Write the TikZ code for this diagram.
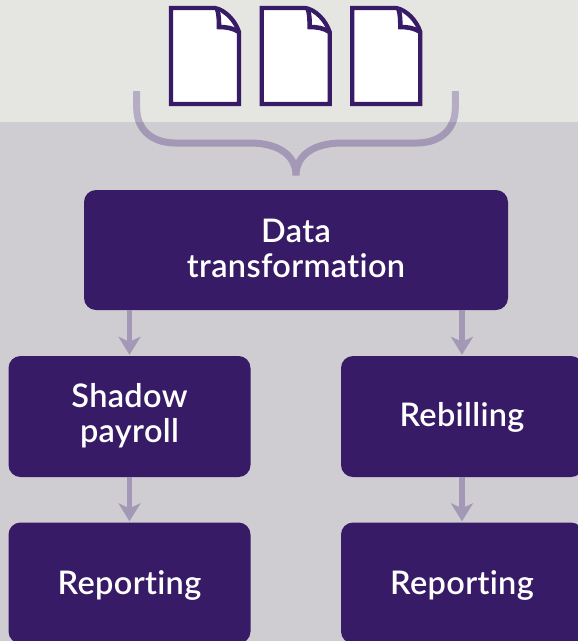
\documentclass[tikz,border=0pt]{standalone}
\usepackage{fontspec}
\setmainfont{Lato Semibold}[Ligatures=NoCommon,LetterSpace=1]
\usetikzlibrary{arrows.meta}
\definecolor{bgtop}{HTML}{E5E6E2}
\definecolor{bgmain}{HTML}{CFCDD2}
\definecolor{deep}{HTML}{371B66}
\definecolor{link}{HTML}{A398B6}
\definecolor{linklight}{HTML}{B5ADC4}
\tikzset{
  x=1pt,y=-1pt,
  box/.style={fill=deep,rounded corners=12pt,inner sep=0pt,text=white,align=center,font=\fontsize{32.5}{35}\selectfont,minimum width=242pt,minimum height=121pt},
  flow/.style={draw=link,line width=5.5pt,-{Stealth[length=18pt,width=22pt,inset=5pt]},shorten >=1pt},
  brace/.style={line width=7pt,line join=round},
  docsheet/.style={draw=deep,line width=4.3pt,fill=white,line join=miter},
  docfold/.style={draw=deep,line width=4.6pt,fill=white,line join=miter}
}
\newcommand{\docicon}[1]{%
  \begin{scope}[shift={(#1,0)}]
    \draw[docsheet] (171,8) -- (215,8) .. controls (225,10) and (235,20) .. (239,32) -- (239,104) -- (171,104) -- cycle;
    \draw[docfold] (217,8.5) .. controls (219,14) and (219,22) .. (219,27) .. controls (226,27) and (233,28) .. (239,32);
  \end{scope}}
\begin{document}
\begin{tikzpicture}
\useasboundingbox (0,0) rectangle (578,641);
\fill[bgtop] (0,0) rectangle (578,122);
\fill[bgmain] (0,122) rectangle (578,641);
\docicon{0}
\docicon{90.67}
\docicon{181.33}
\def\bracepath{(136.7,91) -- (136.7,108) .. controls (136.7,132) and (155,143) .. (175,143) -- (250,143) .. controls (278,143) and (296,155) .. (296,175.5)
 (455.3,91) -- (455.3,108) .. controls (455.3,132) and (437,143) .. (417,143) -- (342,143) .. controls (314,143) and (296,155) .. (296,175.5)}
\begin{scope}
  \clip (0,0) rectangle (578,122);
  \draw[brace,draw=linklight] \bracepath;
\end{scope}
\begin{scope}
  \clip (0,122) rectangle (578,641);
  \draw[brace,draw=link] \bracepath;
\end{scope}
\begin{scope}
  \clip (0,0) rectangle (578,641);
  \node[box,minimum width=424pt,minimum height=120pt] (data) at (296,250) {Data\\transformation\rule[-4pt]{0pt}{4pt}};
  \node[box] (shadow) at (129.5,416.5) {Shadow\\payroll\rule[-7pt]{0pt}{7pt}};
  \node[box] (rebill) at (462,416.5) {\rule{0pt}{26pt}Rebilling};
  \node[box] (repa) at (129.5,583) {\rule{0pt}{28pt}Reporting};
  \node[box] (repb) at (462,583) {\rule{0pt}{28pt}Reporting};
\end{scope}
\draw[flow] (shadow.north |- data.south) -- (shadow.north);
\draw[flow] (rebill.north |- data.south) -- (rebill.north);
\draw[flow] (shadow.south) -- (repa.north);
\draw[flow] (rebill.south) -- (repb.north);
\end{tikzpicture}
\end{document}
